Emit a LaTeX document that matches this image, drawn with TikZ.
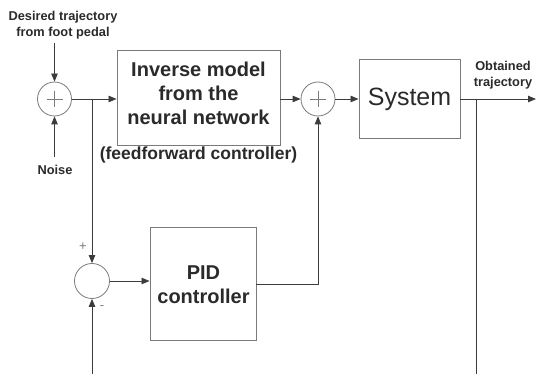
\documentclass[tikz,border=0pt]{standalone}
\usepackage{fontspec}
\setmainfont{Liberation Sans}
\usetikzlibrary{arrows.meta}
\definecolor{linec}{HTML}{3C3C3C}
\definecolor{boxc}{HTML}{7A7A7A}
\definecolor{txtc}{HTML}{2A2A2A}
\begin{document}
\begin{tikzpicture}[x=1pt,y=-1pt,
  blk/.style={draw=boxc,line width=0.9pt,rectangle,inner sep=0pt},
  sumc/.style={draw=boxc,line width=0.8pt,circle,inner sep=0pt,minimum size=34pt},
  conn/.style={draw=linec,line width=0.8pt},
  arr/.style={conn,-{Triangle[length=8pt,width=6.5pt]}},
  small/.style={text=txtc,font=\fontsize{12.8}{16}\selectfont\bfseries,align=center,inner sep=0pt},
  big/.style={text=txtc,font=\fontsize{20}{24}\selectfont\bfseries,align=center,inner sep=0pt},
  pm/.style={text=boxc,font=\fontsize{13}{13}\selectfont,inner sep=0pt},
  crossc/.style={draw=boxc,line width=0.6pt}]
\useasboundingbox (0,0) rectangle (536,374);
% blocks
\node[blk,minimum width=163pt,minimum height=95pt] (inv) at (198.5,97.5) {};
\node[big] (invt) at (198.5,93) {Inverse model\\from the\\neural network};
\node[text=txtc,font=\fontsize{17.5}{20}\selectfont\bfseries,inner sep=0pt] (ff) at (198.5,155) {(feedforward controller)};
\node[blk,minimum width=101pt,minimum height=79pt] (sys) at (409.5,98.5) {};
\node[text=txtc,font=\fontsize{25}{28}\selectfont,inner sep=0pt] (syst) at (409.5,99) {System};
\node[blk,minimum width=106pt,minimum height=113pt] (pid) at (203,283.5) {};
\node[big] (pidt) at (203.5,284.5) {PID\\controller};
% summing junctions
\node[sumc] (s1) at (54.5,99) {};
\node[sumc] (s2) at (318,99) {};
\node[sumc,minimum size=35pt] (s3) at (92,281) {};
\draw[crossc] (s1.center) +(-8,0) -- +(8,0) (s1.center) +(0,-8) -- +(0,8);
\draw[crossc] (s2.center) +(-8,0) -- +(8,0) (s2.center) +(0,-8) -- +(0,8);
% texts
\node[small] (des) at (63,25) {Desired trajectory\\from foot pedal};
\node[small] (noise) at (55,170) {Noise};
\node[small] (obt) at (503,75) {Obtained\\trajectory};
\node[pm] (plus) at (83,247) {+};
\node[pm] (minus) at (102,308) {-};
% coordinates
\coordinate (desin) at (54.5,43);
\coordinate (noisein) at (54.5,157);
\coordinate (b1) at (92,99);
\coordinate (b2) at (476,99);
\coordinate (outend) at (536,99);
\coordinate (fbbot) at (92,374);
\coordinate (outbot) at (476,374);
\coordinate (pidr) at (318,284);
% connectors
\draw[arr] (desin) -- (s1.north);
\draw[arr] (noisein) -- (s1.south);
\draw[arr] (s1.east) -- (s1.east -| inv.west);
\draw[arr] (b1) -- (s3.north);
\draw[arr] (fbbot) -- (s3.south);
\draw[arr] (s3.east) -- (s3.east -| pid.west);
\draw[arr] (s2.west -| inv.east) -- (s2.west);
\draw[arr] (s2.east) -- (s2.east -| sys.west);
\draw[arr] (s2.east -| sys.east) -- (outend);
\draw[conn] (b2) -- (outbot);
\draw[arr] (pidr -| pid.east) -- (pidr) -- (s2.south);
\end{tikzpicture}
\end{document}
